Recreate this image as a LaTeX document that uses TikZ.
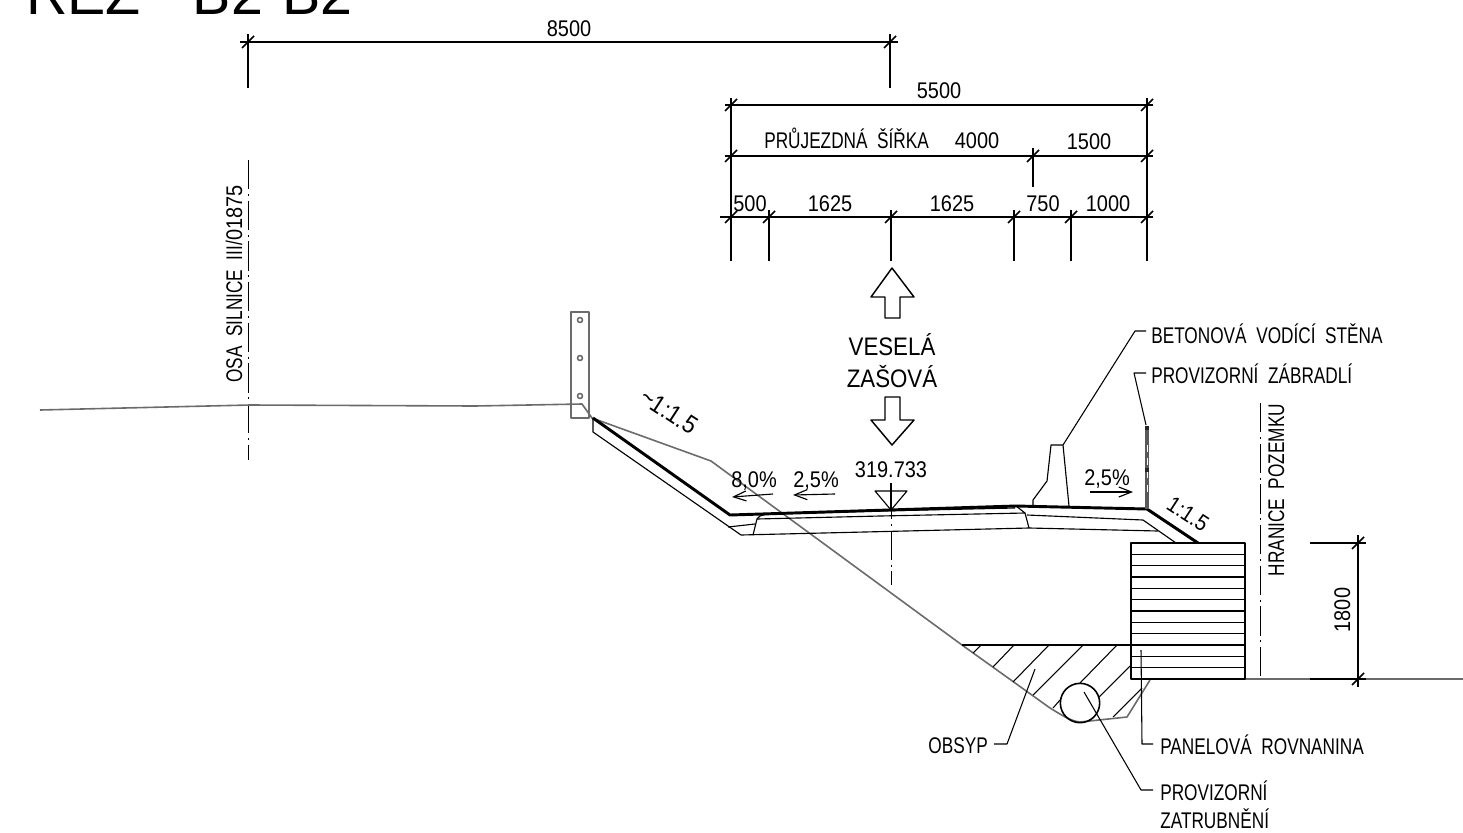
\documentclass[tikz,border=0pt]{standalone}
\usepackage{fontspec}
\setmainfont[FakeStretch=0.88]{Liberation Sans}
\newfontfamily\capsfont[FakeStretch=0.76]{Liberation Sans}
\newfontfamily\titlefont{Liberation Sans}
\usetikzlibrary{arrows.meta}
\begin{document}
\begin{tikzpicture}[x=0.75pt,y=-0.75pt,line join=round]
  \tikzstyle{dim}=[line width=1.1pt,black]
  \tikzstyle{thin}=[line width=0.85pt,black]
  \tikzstyle{road}=[line width=2.2pt,black]
  \tikzstyle{terrain}=[line width=1.2pt,black!58]
  \tikzstyle{axisline}=[line width=0.75pt,black,dash pattern=on 22pt off 3.5pt on 1.5pt off 3.5pt]
  \tikzstyle{leader}=[line width=0.8pt,black]
  \tikzstyle{slope}=[line width=0.85pt,black,-{Straight Barb[length=9.5pt,width=7.5pt]}]
  \tikzstyle{txt}=[inner sep=0pt,anchor=base,font=\fontsize{17}{17}\selectfont]
  \tikzstyle{caps}=[inner sep=0pt,anchor=base west,font=\capsfont\fontsize{17}{17}\selectfont]
  \tikzstyle{big}=[inner sep=0pt,anchor=base,font=\fontsize{19}{19}\selectfont]
  \path[use as bounding box,clip] (0,0) rectangle (1463,832);
  \node[anchor=base west,inner sep=0pt,font=\titlefont\fontsize{43}{43}\selectfont] (title) at (26,14) {ŘEZ\hspace{39pt}B2\raisebox{4pt}{-}B2};

  % dimension lines
  \draw[dim] (240,42) -- (898,42);
  \draw[dim] (248,34) -- (248,88);
  \draw[dim] (890,34) -- (890,88);
  \foreach \x in {248,890}
    \draw[dim] (\x,42) +(-6,6) -- +(6,-6);
  \draw[dim] (725,105) -- (1153,105);
  \draw[dim] (725,156) -- (1153,156);
  \draw[dim] (720,217) -- (1153,217);
  \draw[dim] (731,98) -- (731,261);
  \draw[dim] (1147,98) -- (1147,261);
  \draw[dim] (1033,148) -- (1033,187);
  \foreach \x in {769,891,1014,1071}
    \draw[dim] (\x,210) -- (\x,261);
  \foreach \x in {731,1147}
    \draw[dim] (\x,105) +(-6,6) -- +(6,-6);
  \foreach \x in {731,1033,1147}
    \draw[dim] (\x,156) +(-6,6) -- +(6,-6);
  \foreach \x in {731,769,891,1014,1071,1147}
    \draw[dim] (\x,217) +(-6,6) -- +(6,-6);
  \node[txt] (d8500) at (569,36) {8500};
  \node[txt] (d5500) at (939,98) {5500};
  \node[caps] (dwidth) at (764,148) {PRŮJEZDNÁ\ \ ŠÍŘKA};
  \node[txt] (d4000) at (977,148) {4000};
  \node[txt] (d1500) at (1089,149) {1500};
  \node[txt] (d500) at (750,211) {500};
  \node[txt] (d1625a) at (830,211) {1625};
  \node[txt] (d1625b) at (952,211) {1625};
  \node[txt] (d750) at (1043,211) {750};
  \node[txt] (d1000) at (1108,211) {1000};

  % direction arrows
  \draw[dim] (892,268) -- (914,297) -- (900,297) -- (900,318) -- (885,318) -- (885,297) -- (871,297) -- cycle;
  \draw[dim] (892,445) -- (914,420) -- (900,420) -- (900,397) -- (885,397) -- (885,420) -- (871,420) -- cycle;
  \node[big] (vesela) at (892,355) {VESELÁ};
  \node[big] (zasova) at (892,387) {ZAŠOVÁ};

  % axes
  \draw[axisline] (248,160) -- (248,460);
  \draw[axisline] (891,490) -- (891,585);
  \draw[axisline] (1260,403) -- (1260,679);
  \node[txt,rotate=90] (osa) at (242,284) {{\capsfont OSA\ \ SILNICE\ \ III/}01875};
  \node[caps,anchor=base,rotate=90] (hranice) at (1284,490) {HRANICE\ \ POZEMKU};

  % terrain
  \draw[terrain] (571,312) rectangle (589,418);
  \foreach \y in {320,358,396}
    \draw[terrain] (580,\y) circle (2.5);
  \draw[terrain] (40,410) -- (250,405) -- (475,406) -- (582,404) -- (592,418) -- (711,461) -- (962,645)
    -- (1050,708) .. controls (1060,714) and (1070,721) .. (1080,722) -- (1127,717) -- (1150,680);
  \draw[terrain] (1245,679) -- (1463,679);

  % road
  \draw[road] (593,418) -- (730,515) -- (1016,506) -- (1147,509) -- (1198,543);
  \draw[thin] (593,418) -- (593,432) -- (741,535) -- (1029,528) -- (1158,531);
  \draw[thin] (728,527) -- (755,524);
  \draw[thin] (753,535) -- (757,519) -- (760,516) -- (767,514) -- (880,511) -- (1015,508);
  \draw[thin] (757,519) -- (880,516) -- (1025,513) -- (1029,528);
  \draw[thin] (1016,506) -- (1025,513);
  \draw[thin] (1027,515) -- (1143,520) -- (1176,543);
  \draw[thin] (1033,505) -- (1033,500) -- (1047,481) -- (1051,445) -- (1063,445) -- (1069,506);
  \draw[line width=2.4pt,black!65] (1147,426) -- (1147,509);
  \draw[line width=0.6pt,white,dash pattern=on 5pt off 5pt] (1147,445) -- (1147,495);
  \draw[line width=2.6pt,black!85] (1147,426) -- (1147,430) (1147,468) -- (1147,472);

  % level mark and slopes
  \draw[thin] (875,491) -- (907,491) -- (891,510) -- cycle;
  \draw[thin] (891,483) -- (891,510);
  \node[txt] (level) at (891,477) {319.733};
  \node[txt] (s80) at (754,487) {8,0\%};
  \node[txt] (s25a) at (816,487) {2,5\%};
  \node[txt] (s25b) at (1107,485) {2,5\%};
  \draw[slope] (773,494) -- (732,497);
  \draw[slope] (835,494) -- (793,495);
  \draw[slope] (1090,492) -- (1133,492);
  \node[txt,anchor=center,rotate=-33,font=\fontsize{19}{19}\selectfont] (r15a) at (669,411) {\textasciitilde 1:1.5};
  \node[txt,anchor=center,rotate=-33] (r15b) at (1188,514) {1:1.5};

  % panels
  \foreach \i in {1,...,11}
    \draw[dim] (1131,543+11.33*\i) -- (1245,543+11.33*\i);
  \draw[dim] (1131,543) rectangle (1245,679);
  \draw[dim] (1131,679) -- (1150,679);
  \draw[thin] (962,645) -- (1131,645);
  \foreach \a/\b/\c/\d in {981/645/973/653,1014/645/993/667,1049/645/1013/682,1083/645/1033/695,1117/645/1080/683,1130/666/1099/697,1060/700/1053/708,1142/688/1113/717}
    \draw[leader] (\a,\b) -- (\c,\d);
  \node[draw,circle,line width=1.2pt,minimum size=29.5pt,inner sep=0pt] (pipe) at (1080,703) {};

  % 1800 dimension
  \draw[dim] (1310,543) -- (1366,543);
  \draw[dim] (1310,679) -- (1366,679);
  \draw[dim] (1358,535) -- (1358,687);
  \foreach \y in {543,679}
    \draw[dim] (1358,\y) +(-6,6) -- +(6,-6);
  \node[txt,rotate=90] (d1800) at (1350,610) {1800};

  % callouts
  \node[caps] (wall) at (1151,343) {BETONOVÁ\ \ VODÍCÍ\ \ STĚNA};
  \node[caps] (fence) at (1151,383) {PROVIZORNÍ\ \ ZÁBRADLÍ};
  \node[caps] (panel) at (1160,754) {PANELOVÁ\ \ ROVNANINA};
  \node[caps] (zatr1) at (1160,800) {PROVIZORNÍ};
  \node[caps] (zatr2) at (1160,828) {ZATRUBNĚNÍ};
  \node[caps,anchor=base east] (obsyp) at (988,753) {OBSYP};
  \coordinate (walltop) at (1063,445);
  \coordinate (wallend) at (1146,331);
  \coordinate (fencetop) at (1146,425);
  \coordinate (fenceend) at (1146,373);
  \coordinate (paneltop) at (1141,650);
  \coordinate (panelend) at (1153,744);
  \coordinate (pipein) at (1084,692);
  \coordinate (pipeend) at (1153,790);
  \coordinate (fillin) at (1035,669);
  \coordinate (fillend) at (994,744);
  \draw[leader] (walltop) -- (1135,331) -- (wallend);
  \draw[leader] (fencetop) -- (1134,373) -- (fenceend);
  \draw[leader] (paneltop) -- (1142,744) -- (panelend);
  \draw[leader] (pipein) -- (1141,790) -- (pipeend);
  \draw[leader] (fillin) -- (1007,744) -- (fillend);
\end{tikzpicture}
\end{document}
